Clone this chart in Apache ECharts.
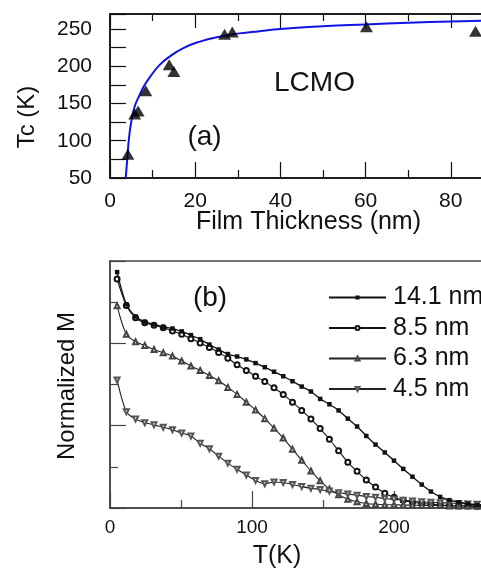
<!DOCTYPE html>
<html>
<head>
<meta charset="utf-8">
<style>
html,body{margin:0;padding:0;background:#fff;}
#main{width:481px;height:569px;}
</style>
<script src="https://cdn.jsdelivr.net/npm/echarts@6/dist/echarts.min.js"></script>
</head>
<body>
<div id="main"></div>
<script>
// ---- Panel (a): Tc vs film thickness ----
const tcThick = [4.2, 5.8, 6.6, 8.4, 13.9, 15.0, 26.9, 28.7, 60.2, 85.8];
const tcValues = [82, 136, 140, 167, 202, 193, 243, 246, 253, 247];
const fitThick = [3.69, 4.0, 4.46, 5.0, 5.8, 6.97, 8.15, 9.7, 11.67, 14.0, 17.1, 21.1, 25.7, 30.4, 35.1, 40, 50, 60, 70, 80, 90, 100];
const fitTc = [50, 72, 103.6, 125.8, 146, 161.5, 175, 188, 201.7, 212.9, 224, 233, 239.6, 244, 247, 250, 253.5, 256, 258.3, 260, 261.2, 262];
const tcYTicks = [50, 100, 150, 200, 250];

// ---- Panel (b): normalized M vs T ----
const tempK = [5, 11.5, 18, 24.5, 31, 37.5, 44, 50.5, 57, 63.5, 70, 76.5, 83, 89.5, 96, 102.5, 109, 115.5, 122, 128.5, 135, 141.5, 148, 154.5, 161, 167.5, 174, 180.5, 187, 193.5, 200, 206.5, 213, 219.5, 226, 232.5, 239, 245.5, 252, 258.5, 265, 271.5];
const m141 = [5.73, 4.95, 4.65, 4.52, 4.46, 4.40, 4.36, 4.29, 4.20, 4.10, 3.97, 3.85, 3.74, 3.68, 3.61, 3.52, 3.42, 3.31, 3.20, 3.08, 2.95, 2.83, 2.65, 2.52, 2.37, 2.17, 1.98, 1.75, 1.54, 1.35, 1.15, 0.95, 0.76, 0.57, 0.40, 0.27, 0.19, 0.14, 0.10, 0.07, 0.06, 0.05];
const m85 = [5.56, 4.92, 4.62, 4.50, 4.44, 4.38, 4.30, 4.22, 4.11, 4.01, 3.90, 3.78, 3.64, 3.48, 3.34, 3.20, 3.07, 2.92, 2.76, 2.57, 2.37, 2.16, 1.93, 1.67, 1.39, 1.11, 0.89, 0.68, 0.51, 0.36, 0.26, 0.19, 0.14, 0.11, 0.09, 0.07, 0.06, 0.05, 0.05, 0.04, 0.04, 0.04];
const m63 = [4.91, 4.22, 4.04, 3.95, 3.85, 3.77, 3.69, 3.57, 3.45, 3.34, 3.22, 3.09, 2.93, 2.76, 2.57, 2.38, 2.17, 1.94, 1.70, 1.43, 1.16, 0.90, 0.66, 0.46, 0.32, 0.21, 0.15, 0.11, 0.09, 0.08, 0.08, 0.07, 0.07, 0.06, 0.06, 0.06, 0.05, 0.05, 0.05, 0.04, 0.04, 0.04];
const m45 = [3.11, 2.34, 2.16, 2.07, 2.02, 1.96, 1.90, 1.82, 1.75, 1.57, 1.44, 1.26, 1.09, 0.94, 0.80, 0.67, 0.59, 0.63, 0.62, 0.57, 0.52, 0.48, 0.45, 0.41, 0.37, 0.34, 0.31, 0.28, 0.26, 0.23, 0.21, 0.19, 0.17, 0.15, 0.14, 0.13, 0.12, 0.11, 0.10, 0.09, 0.08, 0.08];
const seriesNames = ['14.1 nm', '8.5 nm', '6.3 nm', '4.5 nm'];

const FONT = '"Liberation Sans", Arial, sans-serif';
const zip = (xs, ys) => xs.map((x, i) => [x, ys[i]]);

const chart = echarts.init(document.getElementById('main'), null, {renderer: 'canvas'});

const axisCommon = {
  type: 'value',
  splitLine: {show: false},
  axisLabel: {fontFamily: FONT, color: '#111'}
};

const option = {
  animation: false,
  backgroundColor: '#fff',
  grid: [
    {left: 110, top: 14, width: 426, height: 164, outerBoundsMode: 'none', containLabel: false,
      show: true, borderColor: '#111', borderWidth: 1.5, backgroundColor: 'transparent'},
    {left: 110, top: 261, width: 426, height: 247, outerBoundsMode: 'none', containLabel: false,
      show: true, borderColor: '#444', borderWidth: 1.5, backgroundColor: 'transparent'}
  ],
  xAxis: [
    Object.assign({}, axisCommon, {
      gridIndex: 0, min: 0, max: 100, interval: 20, position: 'bottom',
      axisLine: {show: true, lineStyle: {color: '#111', width: 1.5}},
      axisTick: {inside: true, length: 16, lineStyle: {color: '#111', width: 1.2}},
      minorTick: {show: true, splitNumber: 2, length: 8, lineStyle: {color: '#111', width: 1.2}},
      axisLabel: {fontFamily: FONT, color: '#111', fontSize: 21, margin: 13}
    }),
    Object.assign({}, axisCommon, {
      gridIndex: 0, min: 0, max: 100, interval: 20, position: 'top',
      axisLine: {show: true, lineStyle: {color: '#111', width: 1.5}},
      axisTick: {inside: true, length: 14, lineStyle: {color: '#111', width: 1.2}},
      minorTick: {show: true, splitNumber: 2, length: 7, lineStyle: {color: '#111', width: 1.2}},
      axisLabel: {show: false}
    }),
    Object.assign({}, axisCommon, {
      gridIndex: 1, min: 0, max: 300, interval: 100, position: 'bottom',
      axisLine: {show: true, lineStyle: {color: '#444', width: 1.5}},
      axisTick: {inside: true, length: 17, lineStyle: {color: '#444', width: 1.2}},
      minorTick: {show: true, splitNumber: 2, length: 8, lineStyle: {color: '#444', width: 1.2}},
      axisLabel: {fontFamily: FONT, color: '#111', fontSize: 19, margin: 10}
    })
  ],
  yAxis: [
    Object.assign({}, axisCommon, {
      gridIndex: 0, min: 50, max: 270, interval: 25,
      axisLine: {show: true, lineStyle: {color: '#111', width: 1.5}},
      axisTick: {inside: true, length: 16, lineStyle: {color: '#111', width: 1.2}},
      axisLabel: {fontFamily: FONT, color: '#111', fontSize: 21, margin: 18,
        formatter: v => (tcYTicks.indexOf(v) >= 0 ? String(v) : '')}
    }),
    Object.assign({}, axisCommon, {
      gridIndex: 1, min: 0, max: 6, interval: 2,
      axisLine: {show: true, lineStyle: {color: '#444', width: 1.5}},
      axisTick: {inside: true, length: 16, lineStyle: {color: '#444', width: 1.2}},
      minorTick: {show: true, splitNumber: 2, length: 8, lineStyle: {color: '#444', width: 1.2}},
      axisLabel: {show: false}
    })
  ],
  legend: {
    data: seriesNames,
    orient: 'vertical',
    left: 328, top: 285, padding: 0,
    itemWidth: 57, itemHeight: 5, itemGap: 5.5,
    textStyle: {fontFamily: FONT, fontSize: 25, color: '#111', lineHeight: 25, padding: [0, 0, 0, 2]},
    selectedMode: false
  },
  series: [
    {
      type: 'line', name: 'fit', xAxisIndex: 0, yAxisIndex: 0,
      data: zip(fitThick, fitTc), smooth: true, symbol: 'none',
      lineStyle: {color: '#1212e6', width: 2}, z: 2
    },
    {
      type: 'scatter', name: 'Tc', xAxisIndex: 0, yAxisIndex: 0,
      data: zip(tcThick, tcValues), symbol: 'triangle', symbolSize: [13, 11],
      itemStyle: {color: '#000'}, z: 3
    },
    {
      type: 'line', name: seriesNames[0], xAxisIndex: 2, yAxisIndex: 1,
      data: zip(tempK, m141), smooth: 0.3, symbol: 'rect', symbolSize: 4.5,
      lineStyle: {color: '#111', width: 1.3}, itemStyle: {color: '#111'}, z: 4
    },
    {
      type: 'line', name: seriesNames[1], xAxisIndex: 2, yAxisIndex: 1,
      data: zip(tempK, m85), smooth: 0.3, symbol: 'emptyCircle', symbolSize: 5,
      lineStyle: {color: '#111', width: 1.1}, itemStyle: {color: '#111', borderWidth: 1}, z: 3
    },
    {
      type: 'line', name: seriesNames[2], xAxisIndex: 2, yAxisIndex: 1,
      data: zip(tempK, m63), smooth: 0.3, symbol: 'emptyTriangle', symbolSize: 5,
      lineStyle: {color: '#222', width: 1.1}, itemStyle: {color: '#444', borderWidth: 1}, z: 3
    },
    {
      type: 'line', name: seriesNames[3], xAxisIndex: 2, yAxisIndex: 1,
      data: zip(tempK, m45), smooth: 0.3, symbol: 'emptyTriangle', symbolRotate: 180, symbolSize: 5,
      lineStyle: {color: '#222', width: 1.1}, itemStyle: {color: '#555', borderWidth: 1}, z: 3
    }
  ],
  graphic: [
    {type: 'text', x: 27, y: 117, rotation: Math.PI / 2,
      style: {text: 'Tc (K)', fontFamily: FONT, fontSize: 24, fill: '#111', align: 'center', verticalAlign: 'middle'}},
    {type: 'text', x: 308.5, y: 222,
      style: {text: 'Film Thickness (nm)', fontFamily: FONT, fontSize: 25, fill: '#111', align: 'center', verticalAlign: 'middle'}},
    {type: 'text', x: 314.5, y: 83,
      style: {text: 'LCMO', fontFamily: FONT, fontSize: 28, fill: '#111', align: 'center', verticalAlign: 'middle'}},
    {type: 'text', x: 204.5, y: 137,
      style: {text: '(a)', fontFamily: FONT, fontSize: 28, fill: '#111', align: 'center', verticalAlign: 'middle'}},
    {type: 'text', x: 210, y: 298,
      style: {text: '(b)', fontFamily: FONT, fontSize: 28, fill: '#111', align: 'center', verticalAlign: 'middle'}},
    {type: 'text', x: 67, y: 386, rotation: Math.PI / 2,
      style: {text: 'Normalized M', fontFamily: FONT, fontSize: 24, fill: '#111', align: 'center', verticalAlign: 'middle'}},
    {type: 'text', x: 277, y: 556,
      style: {text: 'T(K)', fontFamily: FONT, fontSize: 25, fill: '#111', align: 'center', verticalAlign: 'middle'}}
  ]
};
chart.setOption(option);
</script>
</body>
</html>
